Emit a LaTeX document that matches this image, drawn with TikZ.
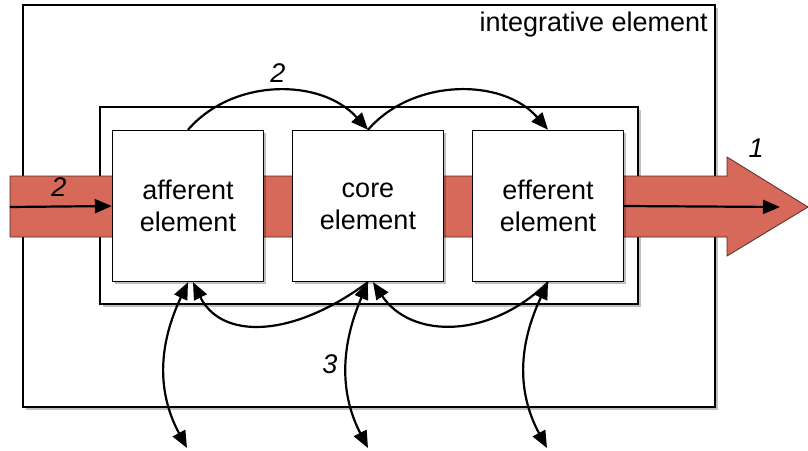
\documentclass[tikz,border=0pt]{standalone}
\usepackage{fontspec}
\setmainfont{Liberation Sans}
\usetikzlibrary{arrows.meta,shadows}
\definecolor{bandred}{RGB}{214,105,90}
\begin{document}
\begin{tikzpicture}[x=1pt,y=-1pt,
  frame/.style={draw=black,line width=1.4pt,fill=white,inner sep=0pt,
    drop shadow={shadow xshift=2.5pt,shadow yshift=-2.5pt,opacity=0.25,fill=black}},
  elem/.style={frame,minimum width=151pt,minimum height=151pt,align=center,
    font=\fontsize{27}{32}\selectfont},
  conn/.style={line width=2.2pt,-{Triangle[length=17pt,width=14pt]}},
  dconn/.style={line width=2.2pt,{Triangle[length=17pt,width=14pt]}-{Triangle[length=17pt,width=14pt]}},
  lbl/.style={font=\fontsize{27}{30}\selectfont\itshape,inner sep=0pt}]
\useasboundingbox (0,0) rectangle (808,450);
\node[frame,minimum width=692pt,minimum height=402pt] (outer) at (369,206) {};
\node[anchor=base east,font=\fontsize{27}{30}\selectfont,inner sep=0pt] (title) at (708,31) {integrative element};
\node[frame,minimum width=538pt,minimum height=197pt] (inner) at (369,205.5) {};
\draw[fill=bandred,draw=black!60!bandred,line width=0.8pt]
  (10,176) -- (727,176) -- (727,157) -- (808,207) -- (727,256) -- (727,237) -- (10,237) -- cycle;
\node[elem] (aff) at (188,206) {afferent\\element};
\node[elem] (core) at (368,206) {core\\element};
\node[elem] (eff) at (548,206) {efferent\\element};
\coordinate (lin) at (10,207);
\coordinate (rout) at (780,207);
\coordinate (b1) at (187,448);
\coordinate (b2) at (368,448);
\coordinate (b3) at (547,448);
\draw[conn] (lin) -- (aff.west);
\draw[conn] (eff.east) -- (rout);
\draw[conn] (aff.north) .. controls +(45,-52) and +(-47,-52) .. (core.north);
\draw[conn] (core.north) .. controls +(45,-52) and +(-45,-52) .. (eff.north);
\draw[conn] (core.south) .. controls +(-77,57) and +(28,57) .. ([xshift=5pt]aff.south);
\draw[conn] (eff.south) .. controls +(-58,57) and +(38,57) .. ([xshift=5pt]core.south);
\draw[dconn] (aff.south) .. controls +(-33,70) and +(-27,-50) .. (b1);
\draw[dconn] (core.south) .. controls +(-30,70) and +(-26,-50) .. (b2);
\draw[dconn] (eff.south) .. controls +(-33,70) and +(-27,-50) .. (b3);
\node[lbl] (l2a) at (59,187) {2};
\node[lbl] (l2b) at (278,73) {2};
\node[lbl] (l1) at (756,148) {1};
\node[lbl] (l3) at (330,364) {3};
\end{tikzpicture}
\end{document}
